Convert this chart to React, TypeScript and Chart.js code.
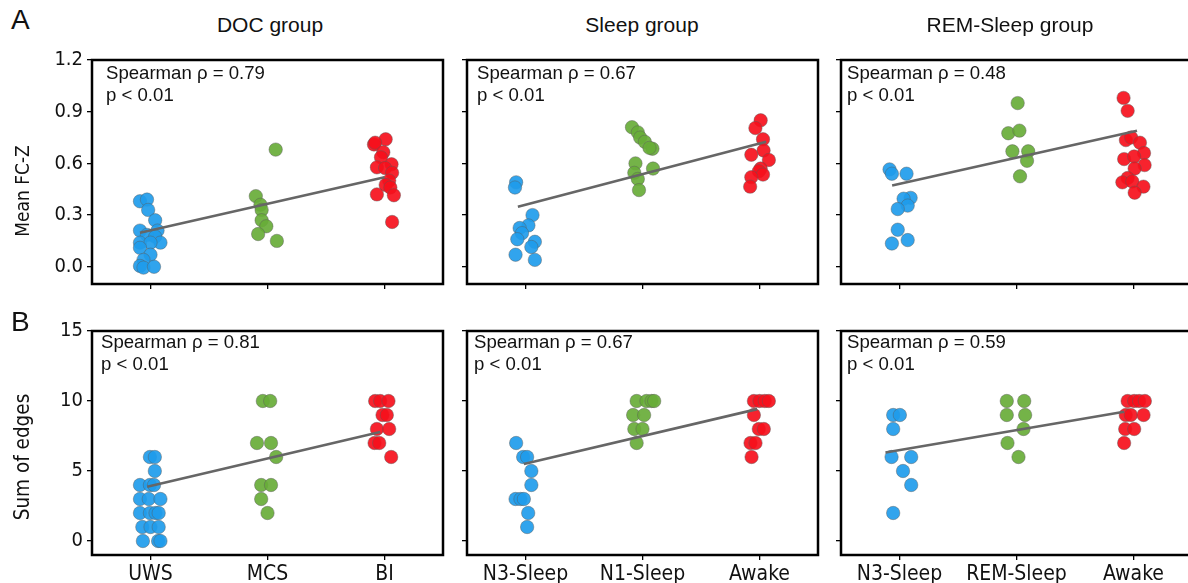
import React, { useEffect, useRef } from "react";
import { Chart, registerables } from "chart.js";
Chart.register(...registerables);

// ---------- categories & ticks ----------
const docCats = ["UWS", "MCS", "BI"];
const sleepCats = ["N3-Sleep", "N1-Sleep", "Awake"];
const remCats = ["N3-Sleep", "REM-Sleep", "Awake"];
const fcTicks = [0, 0.3, 0.6, 0.9, 1.2];
const edgeTicks = [0, 5, 10, 15];
const colTitles = ["DOC group", "Sleep group", "REM-Sleep group"];

// ---------- A: Mean FC-Z ----------
const docFcUwsJ = [-0.09, -0.03, -0.02, 0.04, -0.09, 0.06, -0.03, 0.04, 0.085, -0.09, 0.0, -0.09, 0.0, -0.06, -0.09, -0.06, 0.03];
const docFcUwsY = [0.38, 0.39, 0.33, 0.27, 0.21, 0.21, 0.185, 0.175, 0.14, 0.14, 0.14, 0.11, 0.07, 0.04, 0.005, -0.005, 0.0];
const docFcMcsJ = [0.07, -0.1, -0.06, -0.05, -0.05, -0.01, -0.08, 0.08];
const docFcMcsY = [0.68, 0.41, 0.36, 0.33, 0.27, 0.235, 0.19, 0.15];
const docFcBiJ = [0.01, -0.09, -0.08, -0.01, -0.03, 0.06, -0.065, 0.005, 0.065, 0.04, 0.01, 0.05, -0.065, 0.08, 0.065];
const docFcBiY = [0.74, 0.71, 0.72, 0.665, 0.635, 0.595, 0.577, 0.573, 0.545, 0.5, 0.475, 0.46, 0.42, 0.415, 0.26];
const docFcFitX = [-0.09, 2.0];
const docFcFitY = [0.197, 0.52];

const sleepFcN3J = [-0.08, -0.09, 0.06, 0.025, -0.05, -0.03, -0.07, 0.08, 0.05, -0.085, 0.08];
const sleepFcN3Y = [0.49, 0.46, 0.3, 0.24, 0.225, 0.195, 0.16, 0.145, 0.115, 0.07, 0.04];
const sleepFcN1J = [-0.09, -0.04, -0.02, 0.02, 0.085, 0.06, -0.06, 0.09, -0.07, -0.04, -0.03];
const sleepFcN1Y = [0.81, 0.78, 0.75, 0.725, 0.685, 0.69, 0.6, 0.57, 0.545, 0.51, 0.445];
const sleepFcAwJ = [0.01, -0.035, 0.03, 0.035, -0.07, 0.08, 0.01, -0.005, 0.03, -0.07, -0.08];
const sleepFcAwY = [0.85, 0.805, 0.74, 0.675, 0.65, 0.62, 0.57, 0.555, 0.535, 0.52, 0.465];
const sleepFcFitX = [-0.065, 2.057];
const sleepFcFitY = [0.348, 0.726];

const remFcN3J = [-0.085, -0.065, 0.06, 0.095, 0.035, 0.07, -0.015, -0.015, 0.07, -0.065];
const remFcN3Y = [0.565, 0.54, 0.54, 0.4, 0.395, 0.355, 0.335, 0.215, 0.155, 0.135];
const remFcRemJ = [0.01, -0.07, 0.025, -0.035, 0.1, 0.09, 0.03];
const remFcRemY = [0.95, 0.775, 0.79, 0.67, 0.67, 0.615, 0.525];
const remFcAwJ = [-0.085, -0.05, -0.065, -0.02, 0.055, 0.09, -0.08, 0.005, 0.095, 0.01, -0.05, -0.095, -0.01, 0.085, 0.01];
const remFcAwY = [0.98, 0.905, 0.735, 0.75, 0.72, 0.66, 0.625, 0.64, 0.59, 0.57, 0.515, 0.49, 0.495, 0.465, 0.43];
const remFcFitX = [-0.063, 2.03];
const remFcFitY = [0.472, 0.79];

// ---------- B: Sum of edges ----------
const docEdUwsJ = [-0.005, 0.037, 0.037, -0.09, -0.005, 0.03, -0.09, -0.015, 0.085, -0.09, -0.005, 0.043, 0.07, -0.07, 0, 0.07, -0.065, 0.065, 0.085];
const docEdUwsY = [6, 6, 5, 4, 4, 4, 3, 3, 3, 2, 2, 2, 2, 1, 1, 1, 0, 0, 0];
const docEdMcsJ = [-0.04, 0.023, -0.09, 0.03, 0.074, -0.054, 0.03, -0.054, 0];
const docEdMcsY = [10, 10, 7, 7, 6, 4, 4, 3, 2];
const docEdBiJ = [-0.08, -0.037, 0.034, -0.017, 0.02, -0.065, 0.04, -0.085, -0.045, 0.057];
const docEdBiY = [10, 10, 10, 9, 9, 8, 8, 7, 7, 6];
const docEdFitX = [-0.028, 1.963];
const docEdFitY = [3.87, 7.79];

const sleepEdN3J = [-0.08, -0.02, 0.014, 0.05, 0.05, -0.085, -0.043, -0.014, 0.023, 0.014];
const sleepEdN3Y = [7, 6, 6, 5, 4, 3, 3, 3, 2, 1];
const sleepEdN1J = [-0.05, 0.034, 0.077, 0.1, -0.08, 0.014, -0.07, 0, -0.05];
const sleepEdN1Y = [10, 10, 10, 10, 9, 9, 8, 8, 7];
const sleepEdAwJ = [-0.048, 0, 0.045, 0.08, -0.048, -0.006, 0.037, -0.077, -0.034, -0.068];
const sleepEdAwY = [10, 10, 10, 10, 9, 8, 8, 7, 7, 6];
const sleepEdFitX = [-0.014, 1.98];
const sleepEdFitY = [5.5, 9.42];

const remEdN3J = [-0.054, 0.003, -0.054, -0.068, 0.1, 0.03, 0.1, -0.054];
const remEdN3Y = [9, 9, 8, 6, 6, 5, 4, 2];
const remEdRemJ = [-0.083, 0.066, -0.083, 0.074, 0.06, -0.077, 0.017];
const remEdRemY = [10, 10, 9, 9, 8, 7, 6];
const remEdAwJ = [-0.05, 0.006, 0.048, 0.097, -0.066, -0.023, 0.086, -0.071, 0.006, -0.08];
const remEdAwY = [10, 10, 10, 10, 9, 9, 9, 8, 8, 7];
const remEdFitX = [-0.12, 1.92];
const remEdFitY = [6.32, 9.23];

const stats = [
  ["Spearman ρ = 0.79", "Spearman ρ = 0.67", "Spearman ρ = 0.48"],
  ["Spearman ρ = 0.81", "Spearman ρ = 0.67", "Spearman ρ = 0.59"],
];
const pText = "p < 0.01";

// ---------- styling / layout ----------
const COLORS = ["rgba(32,156,236,0.92)", "rgba(104,172,56,0.92)", "rgba(246,16,28,0.92)"];
const BOX_L = [92, 467, 841];
const BOX_T = [56, 327];
const BOX_W = 351;
const BOX_H = 228;
const PAD_L = 70;
const PAD_T = 12;
const PAD_R = 12;
const PAD_B = 44;
const STAT_X = [[106, 477, 847], [101, 474, 847]];
const STAT_Y = [62, 331];
const TICK_FONT = "'DejaVu Sans Condensed', 'DejaVu Sans', sans-serif";
const TEXT_FONT = "'Liberation Sans', Arial, sans-serif";

const boxPlugin = {
  id: "frameBox",
  afterDraw(chart: any) {
    const { ctx, chartArea: a } = chart;
    ctx.save();
    ctx.strokeStyle = "#000";
    ctx.lineWidth = 2.5;
    ctx.strokeRect(a.left, a.top, a.right - a.left, a.bottom - a.top);
    ctx.restore();
  },
};

type PanelProps = {
  cats: string[];
  groups: { j: number[]; y: number[] }[];
  fitX: number[];
  fitY: number[];
  yMin: number;
  yMax: number;
  yTicks: number[];
  yDec: number;
  showY: boolean;
  showX: boolean;
  left: number;
  top: number;
};

function Panel(p: PanelProps) {
  const ref = useRef<HTMLCanvasElement>(null);
  useEffect(() => {
    if (!ref.current) return;
    const datasets: any[] = [
      {
        data: p.fitX.map((x, i) => ({ x, y: p.fitY[i] })),
        showLine: true,
        borderColor: "#666",
        borderWidth: 2.6,
        pointRadius: 0,
        order: 0,
      },
    ];
    p.groups.forEach((g, gi) => {
      datasets.push({
        data: g.y.map((y, i) => ({ x: gi + g.j[i], y })),
        backgroundColor: COLORS[gi],
        borderColor: "rgba(90,90,90,0.55)",
        borderWidth: 0.8,
        pointRadius: 6.7,
        showLine: false,
        order: 1,
      });
    });
    const chart = new Chart(ref.current, {
      type: "scatter",
      data: { datasets },
      plugins: [boxPlugin],
      options: {
        animation: false,
        responsive: false,
        devicePixelRatio: 1,
        layout: { padding: { top: PAD_T, right: PAD_R, left: 0, bottom: 0 } },
        plugins: { legend: { display: false }, tooltip: { enabled: false } },
        scales: {
          x: {
            type: "linear",
            min: -0.5,
            max: 2.5,
            afterBuildTicks: (ax: any) => {
              ax.ticks = [0, 1, 2].map((v) => ({ value: v }));
            },
            afterFit: (s: any) => {
              s.height = PAD_B;
            },
            ticks: {
              autoSkip: false,
              maxRotation: 0,
              padding: 2,
              color: "#111",
              font: { family: TICK_FONT, size: 21 },
              callback: (v: any) => (p.showX ? p.cats[Math.round(Number(v))] : ""),
            },
            grid: { display: true, drawOnChartArea: false, drawTicks: true, tickLength: 5, color: "#000", lineWidth: 1.3 },
            border: { display: false },
          },
          y: {
            type: "linear",
            min: p.yMin,
            max: p.yMax,
            afterBuildTicks: (ax: any) => {
              ax.ticks = p.yTicks.map((v) => ({ value: v }));
            },
            afterFit: (s: any) => {
              s.width = PAD_L;
            },
            ticks: {
              padding: 4,
              color: "#111",
              font: { family: TICK_FONT, size: 20 },
              callback: (v: any) => (p.showY ? Number(v).toFixed(p.yDec) : ""),
            },
            grid: { display: true, drawOnChartArea: false, drawTicks: true, tickLength: 5, color: "#000", lineWidth: 1.3 },
            border: { display: false },
          },
        },
      } as any,
    });
    return () => chart.destroy();
  }, []);
  const w = PAD_L + BOX_W + PAD_R;
  const h = PAD_T + BOX_H + PAD_B;
  return (
    <canvas
      ref={ref}
      width={w}
      height={h}
      style={{ position: "absolute", left: p.left - PAD_L, top: p.top - PAD_T, width: w, height: h }}
    />
  );
}

export default function App() {
  const rows = [
    {
      yMin: -0.1,
      yMax: 1.2,
      yTicks: fcTicks,
      yDec: 1,
      panels: [
        { cats: docCats, groups: [{ j: docFcUwsJ, y: docFcUwsY }, { j: docFcMcsJ, y: docFcMcsY }, { j: docFcBiJ, y: docFcBiY }], fitX: docFcFitX, fitY: docFcFitY },
        { cats: sleepCats, groups: [{ j: sleepFcN3J, y: sleepFcN3Y }, { j: sleepFcN1J, y: sleepFcN1Y }, { j: sleepFcAwJ, y: sleepFcAwY }], fitX: sleepFcFitX, fitY: sleepFcFitY },
        { cats: remCats, groups: [{ j: remFcN3J, y: remFcN3Y }, { j: remFcRemJ, y: remFcRemY }, { j: remFcAwJ, y: remFcAwY }], fitX: remFcFitX, fitY: remFcFitY },
      ],
    },
    {
      yMin: -1,
      yMax: 15,
      yTicks: edgeTicks,
      yDec: 0,
      panels: [
        { cats: docCats, groups: [{ j: docEdUwsJ, y: docEdUwsY }, { j: docEdMcsJ, y: docEdMcsY }, { j: docEdBiJ, y: docEdBiY }], fitX: docEdFitX, fitY: docEdFitY },
        { cats: sleepCats, groups: [{ j: sleepEdN3J, y: sleepEdN3Y }, { j: sleepEdN1J, y: sleepEdN1Y }, { j: sleepEdAwJ, y: sleepEdAwY }], fitX: sleepEdFitX, fitY: sleepEdFitY },
        { cats: remCats, groups: [{ j: remEdN3J, y: remEdN3Y }, { j: remEdRemJ, y: remEdRemY }, { j: remEdAwJ, y: remEdAwY }], fitX: remEdFitX, fitY: remEdFitY },
      ],
    },
  ];
  const titleX = [270, 642, 1010];
  return (
    <div style={{ position: "absolute", left: 0, top: 0, width: 1188, height: 583, overflow: "hidden", background: "#fff" }}>
      {rows.map((r, ri) =>
        r.panels.map((pn, ci) => (
          <Panel
            key={`${ri}-${ci}`}
            cats={pn.cats}
            groups={pn.groups}
            fitX={pn.fitX}
            fitY={pn.fitY}
            yMin={r.yMin}
            yMax={r.yMax}
            yTicks={r.yTicks}
            yDec={r.yDec}
            showY={ci === 0}
            showX={ri === 1}
            left={BOX_L[ci]}
            top={BOX_T[ri]}
          />
        ))
      )}
      {rows.map((r, ri) =>
        r.panels.map((pn, ci) => (
          <div
            key={`s-${ri}-${ci}`}
            style={{ position: "absolute", left: STAT_X[ri][ci], top: STAT_Y[ri], font: `18.6px ${TEXT_FONT}`, lineHeight: "22px", color: "#111", whiteSpace: "nowrap" }}
          >
            <div>{stats[ri][ci]}</div>
            <div>{pText}</div>
          </div>
        ))
      )}
      {colTitles.map((t, i) => (
        <div
          key={t}
          style={{ position: "absolute", left: titleX[i], top: 25, transform: "translate(-50%, -50%)", font: `21px ${TEXT_FONT}`, color: "#111", whiteSpace: "nowrap" }}
        >
          {t}
        </div>
      ))}
      <div style={{ position: "absolute", left: 11, top: 6, font: `28px ${TEXT_FONT}`, lineHeight: "28px", color: "#111" }}>A</div>
      <div style={{ position: "absolute", left: 11, top: 308, font: `28px ${TEXT_FONT}`, lineHeight: "28px", color: "#111" }}>B</div>
      <div style={{ position: "absolute", left: 22, top: 191, transform: "translate(-50%, -50%) rotate(-90deg)", font: `19px ${TICK_FONT}`, color: "#111", whiteSpace: "nowrap" }}>
        Mean FC-Z
      </div>
      <div style={{ position: "absolute", left: 22, top: 457, transform: "translate(-50%, -50%) rotate(-90deg)", font: `20.5px ${TICK_FONT}`, color: "#111", whiteSpace: "nowrap" }}>
        Sum of edges
      </div>
    </div>
  );
}
